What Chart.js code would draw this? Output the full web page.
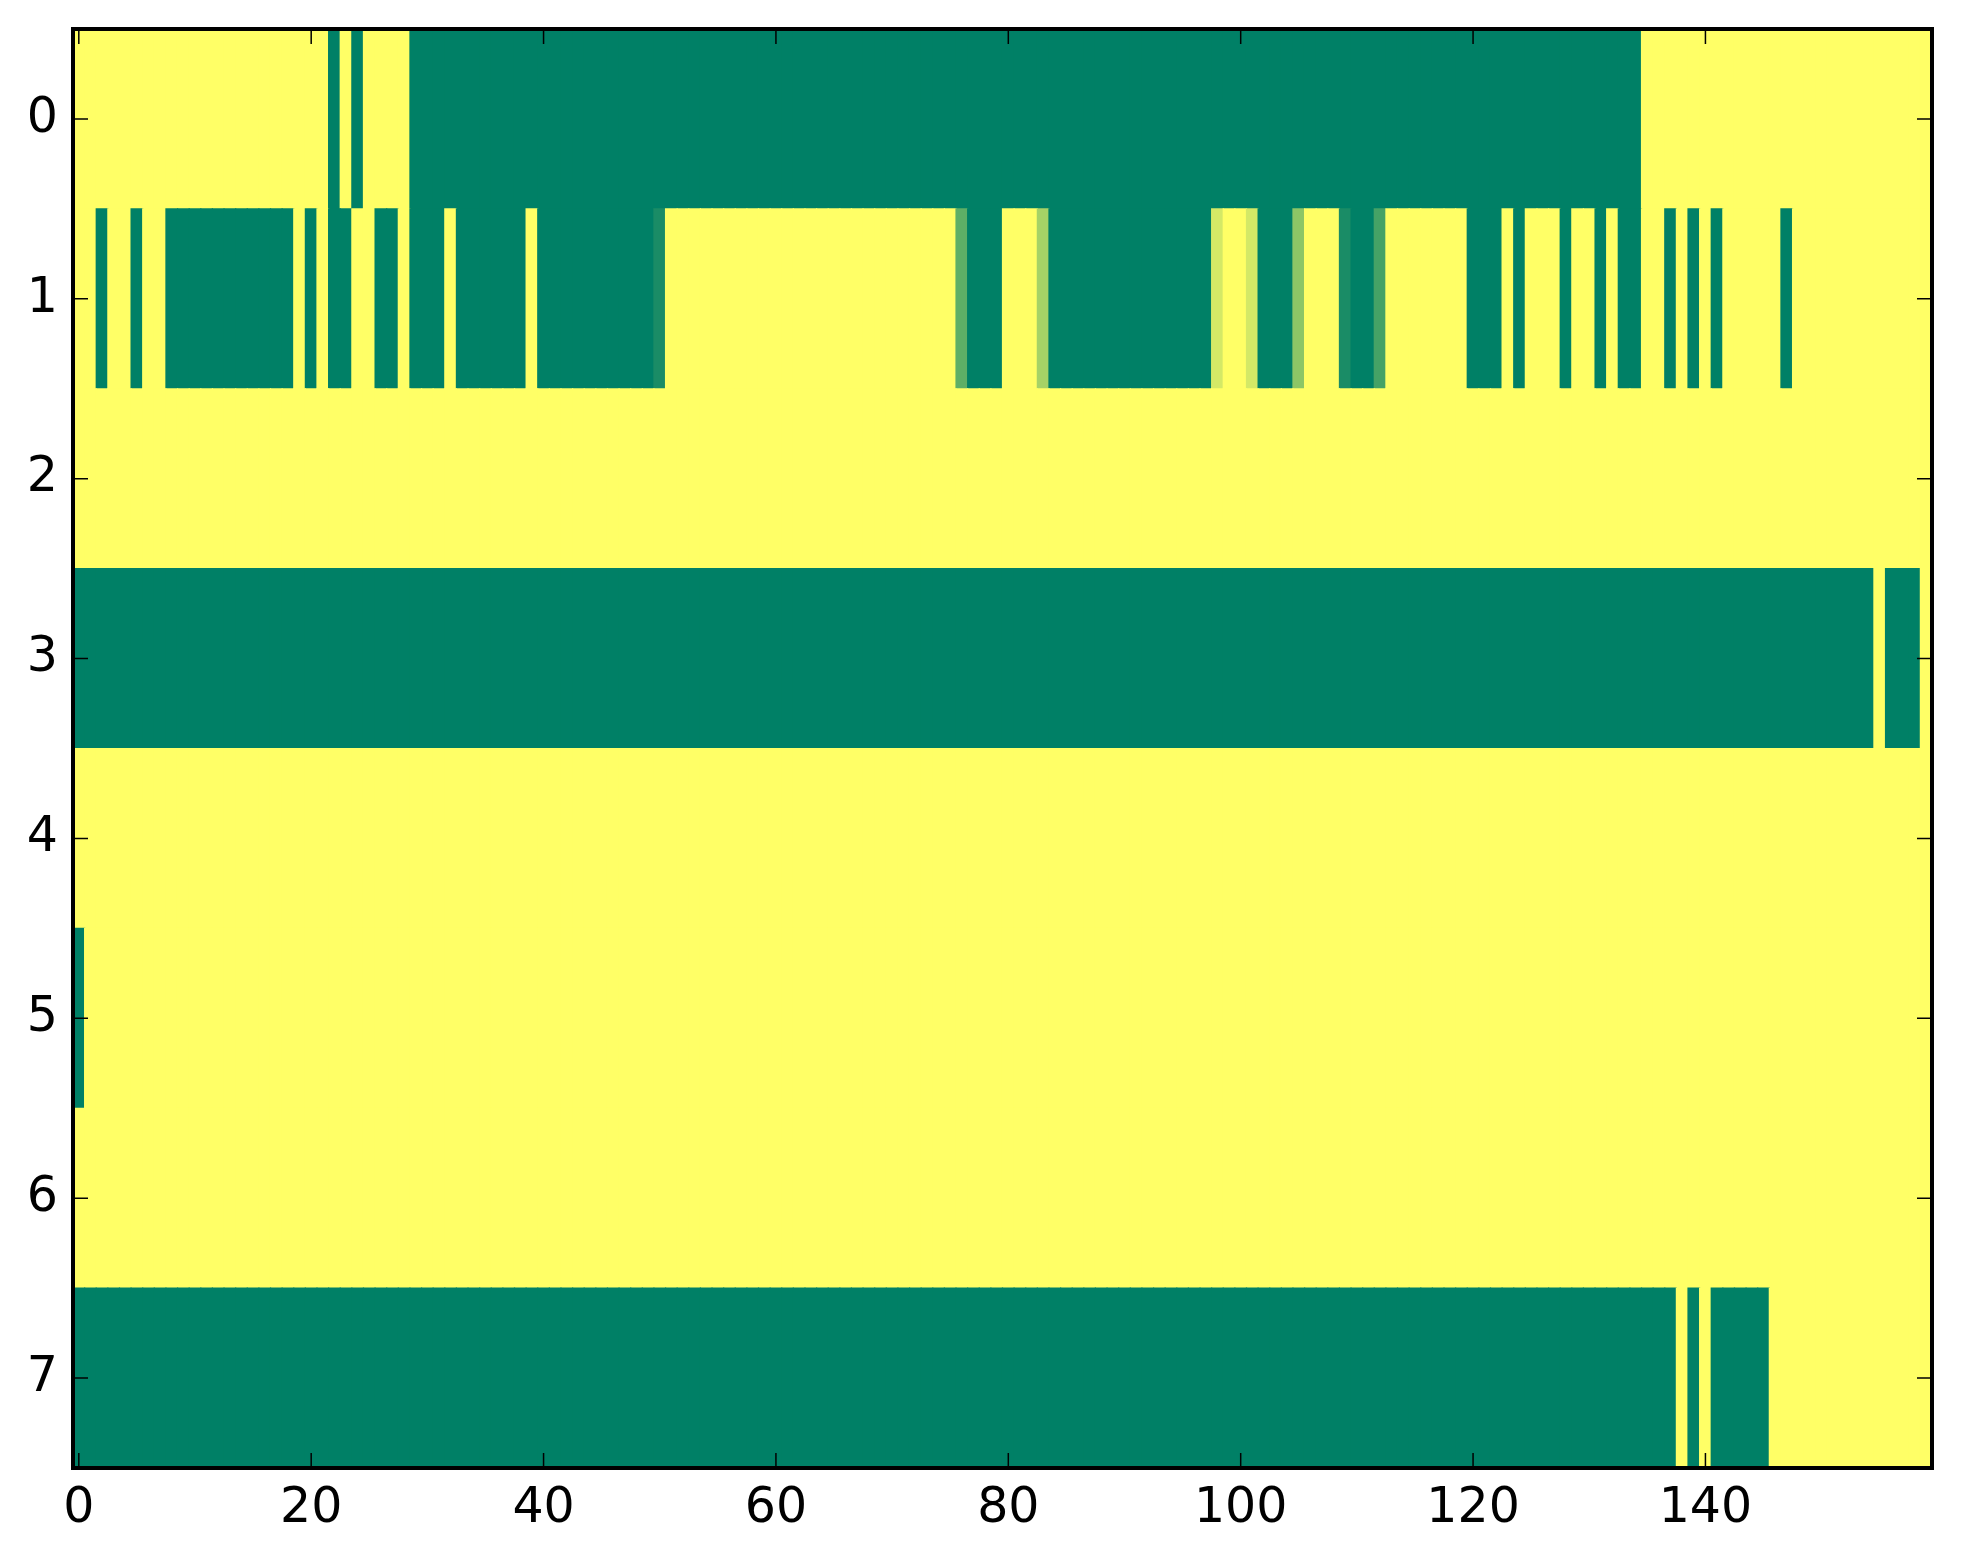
<!DOCTYPE html>
<html>
<head>
<meta charset="utf-8">
<title>heatmap</title>
<script src="https://cdn.jsdelivr.net/npm/chart.js@4.4.1/dist/chart.umd.min.js"></script>
<style>
  html, body { margin: 0; padding: 0; background: #fff; }
  #wrap { width: 1963px; height: 1564px; position: relative; }
</style>
</head>
<body>
<div id="wrap"><canvas id="heatmap"></canvas></div>
<script>
const rowLabels = ["0", "1", "2", "3", "4", "5", "6", "7"];
const xTicks = [0, 20, 40, 60, 80, 100, 120, 140];
const numCols = 160;

// each row read left to right as runs of [value, count]  (0 = green, 1 = yellow)
const row0 = [[1,22],[0,1],[1,1],[0,1],[1,4],[0,106],[1,25]];
const row1 = [[1,2],[0,1],[1,2],[0,1],[1,2],[0,11],[1,1],[0,1],[1,1],[0,2],[1,2],[0,2],[1,1],[0,3],[1,1],[0,6],[1,1],[0,10],
  [0.1,1],[1,25],[0.37,1],[0,3],[1,3],[0.65,1],[0,14],[0.83,1],[1,2],[0.83,1],[0,3],[0.55,1],[1,3],[0.1,1],[0,2],[0.27,1],
  [1,7],[0,3],[1,1],[0,1],[1,3],[0,1],[1,2],[0,1],[1,1],[0,2],[1,2],[0,1],[1,1],[0,1],[1,1],[0,1],[1,5],[0,1],[1,12]];
const row2 = [[1,160]];
const row3 = [[0,155],[1,1],[0,3],[1,1]];
const row4 = [[1,160]];
const row5 = [[0,1],[1,159]];
const row6 = [[1,160]];
const row7 = [[0,138],[1,1],[0,1],[1,1],[0,5],[1,14]];

const rows = [row0, row1, row2, row3, row4, row5, row6, row7];

// matplotlib "summer" colormap
function summer(v) {
  const r = Math.round(255 * v);
  const g = Math.round(255 * (0.5 + v / 2));
  return `rgb(${r},${g},102)`;
}

const cells = [];
rows.forEach((runs, r) => {
  let col = 0;
  runs.forEach(([v, n]) => {
    for (let k = 0; k < n; k++) {
      cells.push({ x: [col - 0.5, col + 0.5], y: rowLabels[r], v: v });
      col++;
    }
  });
});

// inward ticks on all four sides plus the black frame
const frame = {
  id: "frame",
  afterDraw(chart) {
    const { ctx, chartArea: a, scales } = chart;
    ctx.save();
    ctx.strokeStyle = "#000";
    ctx.lineWidth = 1.5;
    ctx.beginPath();
    scales.x.ticks.forEach(t => {
      const px = scales.x.getPixelForValue(t.value);
      ctx.moveTo(px, a.bottom); ctx.lineTo(px, a.bottom - 15);
      ctx.moveTo(px, a.top); ctx.lineTo(px, a.top + 15);
    });
    scales.y.ticks.forEach((t, i) => {
      const py = scales.y.getPixelForTick(i);
      ctx.moveTo(a.left, py); ctx.lineTo(a.left + 15, py);
      ctx.moveTo(a.right, py); ctx.lineTo(a.right - 15, py);
    });
    ctx.stroke();
    ctx.lineWidth = 4;
    ctx.strokeRect(a.left, a.top, a.right - a.left, a.bottom - a.top);
    ctx.restore();
  }
};

const tickFont = { family: "DejaVu Sans", size: 49 };

new Chart(document.getElementById("heatmap"), {
  type: "bar",
  data: {
    labels: rowLabels,
    datasets: [{
      data: cells,
      backgroundColor: c => summer(c.raw ? c.raw.v : 0),
      borderWidth: 0,
      barPercentage: 1,
      categoryPercentage: 1,
      inflateAmount: 0.6
    }]
  },
  options: {
    indexAxis: "y",
    responsive: true,
    maintainAspectRatio: false,
    animation: false,
    layout: { padding: { top: 29, right: 31, bottom: 0, left: 0 } },
    plugins: { legend: { display: false }, tooltip: { enabled: false } },
    scales: {
      x: {
        type: "linear",
        min: -0.5,
        max: numCols - 0.5,
        afterBuildTicks: s => { s.ticks = xTicks.map(v => ({ value: v })); },
        afterFit: s => { s.height = 96; s.paddingLeft = 0; s.paddingRight = 0; },
        grid: { display: false, drawTicks: false },
        border: { display: false },
        ticks: { font: tickFont, color: "#000", padding: 12, autoSkip: false, maxRotation: 0 }
      },
      y: {
        type: "category",
        afterFit: s => { s.width = 73; s.paddingTop = 0; s.paddingBottom = 0; },
        grid: { display: false, drawTicks: false },
        border: { display: false },
        ticks: { font: tickFont, color: "#000", padding: 15 }
      }
    }
  },
  plugins: [frame]
});
</script>
</body>
</html>
